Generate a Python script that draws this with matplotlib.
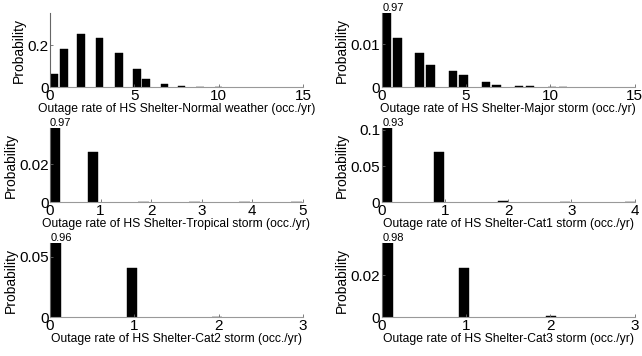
import matplotlib
matplotlib.use("Agg")
import matplotlib.pyplot as plt

plt.rcParams['font.family'] = ['Liberation Sans', 'DejaVu Sans']

# ---- data ----
titles = ["Normal weather", "Major storm", "Tropical storm", "Cat1 storm", "Cat2 storm", "Cat3 storm"]

x_normal = [0.27, 0.82, 1.84, 2.93, 4.08, 5.15, 5.70, 6.80, 7.80, 8.90, 10.0]
p_normal = [0.063, 0.18, 0.255, 0.235, 0.164, 0.087, 0.038, 0.016, 0.008, 0.003, 0.002]

x_major = [0.30, 0.93, 2.25, 2.90, 4.22, 4.85, 6.17, 6.80, 8.15, 8.80, 10.1, 10.75]
p_major = [0.97, 0.0115, 0.0079, 0.0052, 0.0038, 0.0028, 0.0013, 0.0006, 0.0003, 0.0002, 0.0001, 0.0001]

x_trop = [0.10, 0.85, 1.85, 2.85, 3.85, 4.87]
p_trop = [0.97, 0.0263, 0.0004, 0.0003, 0.0003, 0.0003]

x_cat1 = [0.09, 0.90, 1.92, 2.90, 3.92]
p_cat1 = [0.93, 0.069, 0.0015, 0.0008, 0.0006]

x_cat2 = [0.065, 0.97, 1.98]
p_cat2 = [0.96, 0.041, 0.0006]

x_cat3 = [0.07, 0.98, 2.01]
p_cat3 = [0.98, 0.0234, 0.0005]

xs = [x_normal, x_major, x_trop, x_cat1, x_cat2, x_cat3]
ps = [p_normal, p_major, p_trop, p_cat1, p_cat2, p_cat3]
widths = [0.45, 0.5, 0.21, 0.16, 0.12, 0.12]
xmax = [15, 15, 5, 4, 3, 3]
ytop = [0.353, 0.0172, 0.0393, 0.103, 0.061, 0.035]
yticks = [[0, 0.2], [0, 0.01], [0, 0.02], [0, 0.05, 0.1], [0, 0.05], [0, 0.02]]
xticks = [[0, 5, 10, 15], [0, 5, 10, 15], [0, 1, 2, 3, 4, 5], [0, 1, 2, 3, 4], [0, 1, 2, 3], [0, 1, 2, 3]]

fig = plt.figure(figsize=(6.42, 3.56), dpi=100)
lefts = [0.0779, 0.5946]
w = 0.394
rows = [(0.7548, 0.2087), (0.4317, 0.2096), (0.1087, 0.2079)]

for i in range(6):
    r, c = divmod(i, 2)
    b, h = rows[r]
    ax = fig.add_axes([lefts[c], b, w, h])
    ax.bar(xs[i], ps[i], width=widths[i], color='black', edgecolor='black', linewidth=0.3)
    ax.set_xlim(0, xmax[i])
    ax.set_ylim(0, ytop[i])
    ax.set_xticks(xticks[i])
    ax.set_yticks(yticks[i])
    ax.set_yticklabels([('%g' % v) for v in yticks[i]])
    for s in ['top', 'right']:
        ax.spines[s].set_visible(False)
    ax.spines['left'].set_color('#666666')
    ax.spines['bottom'].set_color('#999999')
    ax.spines['left'].set_linewidth(0.8)
    ax.spines['bottom'].set_linewidth(0.8)
    ax.tick_params(direction='in', length=2, width=0.6, labelsize=11, pad=1, colors='#666666',
                   labelcolor='black')
    ax.tick_params(axis='x', pad=1.5)
    ax.set_xlabel("Outage rate of HS Shelter-%s (occ./yr)" % titles[i], fontsize=8.7, labelpad=0)
    ax.set_ylabel("Probability", fontsize=10, labelpad=1)
    if ps[i][0] > ytop[i]:
        ax.text(xs[i][0] - widths[i] / 2, ytop[i], '%.2f' % ps[i][0], fontsize=8,
                ha='left', va='bottom')

fig.savefig("out.png", dpi=100)
